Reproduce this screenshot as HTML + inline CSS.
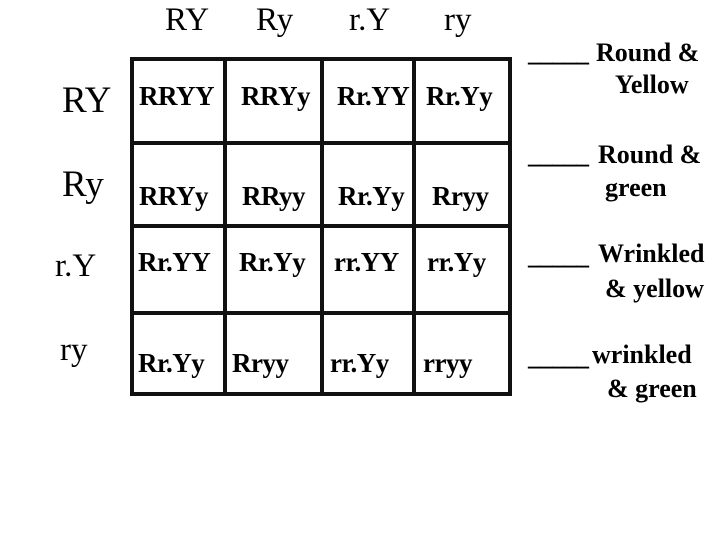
<!DOCTYPE html>
<html><head><style>
body{margin:0;width:720px;height:540px;background:#fff;position:relative;overflow:hidden;font-family:"Liberation Serif",serif;color:#000}
.t{position:absolute;white-space:nowrap;line-height:1}
.h{font-size:33px}
.c{font-size:27px;font-weight:bold;letter-spacing:-0.5px}
.r{font-size:26px;font-weight:bold}
.v{position:absolute;background:#111;width:4px}
.hz{position:absolute;background:#111;height:4px}
</style></head><body>
<div class="t h" style="left:165px;top:4px">RY</div>
<div class="t h" style="left:256px;top:4px">Ry</div>
<div class="t h" style="left:349px;top:4px">r.Y</div>
<div class="t h" style="left:444px;top:4px">ry</div>

<div class="t h" style="left:62px;top:82px;font-size:37px">RY</div>
<div class="t h" style="left:62px;top:166px;font-size:37px">Ry</div>
<div class="t h" style="left:55px;top:250px">r.Y</div>
<div class="t h" style="left:60px;top:334px">ry</div>

<div class="v" style="left:130px;top:57px;height:339px"></div>
<div class="v" style="left:223px;top:57px;height:339px"></div>
<div class="v" style="left:320px;top:57px;height:339px"></div>
<div class="v" style="left:412px;top:57px;height:339px"></div>
<div class="v" style="left:508px;top:57px;height:339px"></div>
<div class="hz" style="left:130px;top:57px;width:382px"></div>
<div class="hz" style="left:130px;top:141px;width:382px"></div>
<div class="hz" style="left:130px;top:224px;width:382px"></div>
<div class="hz" style="left:130px;top:311px;width:382px"></div>
<div class="hz" style="left:130px;top:392px;width:382px"></div>

<div class="t c" style="left:139px;top:83px">RRYY</div>
<div class="t c" style="left:241px;top:83px">RRYy</div>
<div class="t c" style="left:337px;top:83px">Rr.YY</div>
<div class="t c" style="left:426px;top:83px">Rr.Yy</div>

<div class="t c" style="left:139px;top:183px">RRYy</div>
<div class="t c" style="left:242px;top:183px">RRyy</div>
<div class="t c" style="left:338px;top:183px">Rr.Yy</div>
<div class="t c" style="left:432px;top:183px">Rryy</div>

<div class="t c" style="left:138px;top:249px">Rr.YY</div>
<div class="t c" style="left:239px;top:249px">Rr.Yy</div>
<div class="t c" style="left:334px;top:249px">rr.YY</div>
<div class="t c" style="left:427px;top:249px">rr.Yy</div>

<div class="t c" style="left:138px;top:350px">Rr.Yy</div>
<div class="t c" style="left:232px;top:350px">Rryy</div>
<div class="t c" style="left:330px;top:350px">rr.Yy</div>
<div class="t c" style="left:423px;top:350px">rryy</div>

<div class="t r" style="left:528px;top:40px;letter-spacing:-1px">_____</div>
<div class="t r" style="left:596px;top:40px">Round &amp;</div>
<div class="t r" style="left:615px;top:72px">Yellow</div>

<div class="t r" style="left:528px;top:142px;letter-spacing:-1px">_____</div>
<div class="t r" style="left:598px;top:142px">Round &amp;</div>
<div class="t r" style="left:605px;top:175px">green</div>

<div class="t r" style="left:528px;top:243px;letter-spacing:-1px">_____</div>
<div class="t r" style="left:598px;top:241px">Wrinkled</div>
<div class="t r" style="left:605px;top:276px">&amp; yellow</div>

<div class="t r" style="left:528px;top:344px;letter-spacing:-1px">_____</div>
<div class="t r" style="left:592px;top:342px">wrinkled</div>
<div class="t r" style="left:607px;top:376px">&amp; green</div>
</body></html>
